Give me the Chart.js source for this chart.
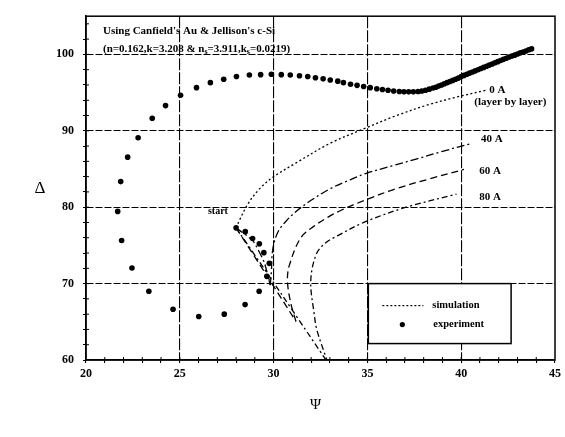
<!DOCTYPE html>
<html>
<head>
<meta charset="utf-8">
<script src="https://cdn.jsdelivr.net/npm/chart.js@4/dist/chart.umd.min.js"></script>
<style>html,body{margin:0;padding:0;background:#fff}canvas{display:block}</style>
</head>
<body>
<canvas id="c" width="565" height="437"></canvas>
<script>
// measured points (psi, delta)
const expPsi = [28.0, 28.49, 28.88, 29.24, 29.48, 29.77, 29.64, 29.23, 28.48, 27.37, 26.01, 24.64, 23.35, 22.45, 21.9, 21.69, 21.85, 22.22, 22.78,
  23.53, 24.24, 25.04, 25.89, 26.63, 27.34, 28.02, 28.71, 29.31, 29.88, 30.41, 30.89, 31.38, 31.82, 32.23, 32.64, 33.02, 33.42, 33.72,
  34.1, 34.45, 34.8, 35.15, 35.5, 35.8, 36.1, 36.4, 36.7, 36.95, 37.2, 37.45, 37.7, 37.9, 38.1, 38.3, 38.5, 38.65, 38.8, 38.95, 39.1,
  39.25, 39.4, 39.55, 39.7, 39.85, 40.0, 40.15, 40.3, 40.45, 40.6, 40.75, 40.9, 41.05, 41.2, 41.35, 41.5, 41.65, 41.8, 41.95, 42.1,
  42.25, 42.4, 42.55, 42.7, 42.85, 43.0, 43.15, 43.3, 43.45, 43.6, 43.75];
const expDelta = [77.3, 76.8, 75.9, 75.2, 74.05, 72.65, 70.95, 69.0, 67.25, 66.0, 65.7, 66.65, 69.0, 72.05, 75.65, 79.45, 83.35, 86.55, 89.1,
  91.65, 93.3, 94.65, 95.65, 96.3, 96.75, 97.1, 97.3, 97.35, 97.4, 97.35, 97.3, 97.2, 97.1, 96.95, 96.8, 96.65, 96.5, 96.3,
  96.1, 95.95, 95.8, 95.65, 95.5, 95.4, 95.3, 95.2, 95.15, 95.1, 95.1, 95.1, 95.15, 95.2, 95.3, 95.45, 95.6, 95.7, 95.85, 96.0, 96.15,
  96.3, 96.45, 96.6, 96.75, 96.9, 97.1, 97.25, 97.4, 97.55, 97.7, 97.85, 98.0, 98.15, 98.3, 98.45, 98.6, 98.75, 98.9, 99.05, 99.2,
  99.35, 99.5, 99.65, 99.8, 99.9, 100.05, 100.2, 100.3, 100.45, 100.6, 100.72];

// simulated curves
const sim0Psi = [28.0, 28.2, 28.65, 29.25, 29.95, 31.2, 33.0, 34.9, 36.5, 38.3, 39.9, 41.4];
const sim0Delta = [77.3, 78.4, 80.5, 82.4, 83.9, 85.8, 88.35, 90.35, 91.95, 93.45, 94.5, 95.35];
const sim40Psi = [28.0, 28.9, 29.5, 29.82, 29.88, 29.95, 30.2, 30.6, 31.2, 32.0, 33.0, 34.0, 34.9, 36.3, 37.6, 39.0, 40.55];
const sim40Delta = [77.3, 75.6, 72.8, 69.8, 71.5, 74.4, 76.6, 78.0, 79.45, 80.9, 82.4, 83.5, 84.4, 85.4, 86.3, 87.3, 88.35];
const sim60Psi = [28.0, 29.6, 31.19, 30.92, 30.74, 30.84, 31.45, 32.2, 32.9, 33.6, 34.9, 36.5, 38.3, 40.15];
const sim60Delta = [77.3, 71.2, 65.05, 67.4, 70.3, 72.4, 76.0, 77.6, 78.7, 79.6, 80.95, 82.4, 83.7, 84.95];
const sim80Psi = [28.0, 30.4, 32.9, 32.7, 32.3, 32.16, 31.98, 32.25, 32.7, 33.4, 34.9, 37.2, 39.75];
const sim80Delta = [77.3, 68.7, 59.6, 61.0, 64.0, 66.1, 70.3, 73.7, 75.2, 76.25, 78.1, 80.1, 81.7];

const xLabelTicks = [20, 25, 30, 35, 40, 45];
const yLabelTicks = [60, 70, 80, 90, 100];

const serif = 'Liberation Serif';
const pts = (xs, ys) => xs.map((v, i) => ({ x: v, y: ys[i] }));

// one curve = straight run down to its lowest point, then smooth branch back up
function simLines(xs, ys, dash) {
  const tip = ys.indexOf(Math.min(...ys));
  const base = {
    showLine: true,
    borderColor: '#000',
    borderWidth: 1.3,
    borderDash: dash,
    pointRadius: 0,
    fill: false
  };
  const out = [];
  if (tip > 0) out.push({ ...base, tension: 0.15, data: pts(xs.slice(0, tip + 1), ys.slice(0, tip + 1)) });
  out.push({ ...base, tension: 0.35, data: pts(xs.slice(tip), ys.slice(tip)) });
  return out;
}

// frame, inner ticks, notes and legend box
const decor = {
  id: 'decor',
  afterDraw(chart) {
    const { ctx, chartArea: a, scales: { x, y } } = chart;
    ctx.save();
    ctx.strokeStyle = '#000';
    ctx.lineWidth = 1.5;
    ctx.strokeRect(a.left, a.top, a.right - a.left, a.bottom - a.top);

    ctx.lineWidth = 1;
    for (let v = 21; v < 45; v++) {
      const px = x.getPixelForValue(v);
      ctx.beginPath(); ctx.moveTo(px, a.bottom); ctx.lineTo(px, a.bottom - 3); ctx.stroke();
    }
    for (let v = 62; v < 105; v += 2) {
      const py = y.getPixelForValue(v);
      ctx.beginPath(); ctx.moveTo(a.left, py); ctx.lineTo(a.left + 3, py); ctx.stroke();
    }

    ctx.fillStyle = '#000';
    ctx.textBaseline = 'middle';
    ctx.textAlign = 'left';

    // note at top left
    ctx.font = 'bold 11px "' + serif + '"';
    ctx.fillText("Using Canfield's Au & Jellison's c-Si", a.left + 17, a.top + 15);
    const parts = [['(n=0.162,k=3.208 & n', 0], ['s', 1], ['=3.911,k', 0], ['s', 1], ['=0.0219)', 0]];
    let tx = a.left + 17;
    for (const [s, sub] of parts) {
      ctx.font = sub ? 'bold 8px "' + serif + '"' : 'bold 11px "' + serif + '"';
      ctx.fillText(s, tx, a.top + 33 + (sub ? 3 : 0));
      tx += ctx.measureText(s).width;
    }

    // curve labels
    ctx.font = 'bold 11px "' + serif + '"';
    const notes = [
      ['0 A', 41.5, 95.3], ['(layer by layer)', 40.7, 93.8], ['40 A', 41.06, 88.95],
      ['60 A', 40.96, 84.76], ['80 A', 40.96, 81.33], ['start', 26.5, 79.4]
    ];
    for (const [s, vx, vy] of notes) {
      if (s === 'start') ctx.font = 'bold 10px "' + serif + '"';
      ctx.fillText(s, x.getPixelForValue(vx), y.getPixelForValue(vy));
    }

    // axis titles
    ctx.textAlign = 'center';
    ctx.font = '17px "' + serif + '"';
    ctx.fillText('\u0394', a.left - 46, (a.top + a.bottom) / 2);
    ctx.font = '15px "' + serif + '"';
    ctx.fillText('\u03A8', (a.left + a.right) / 2 - 5, a.bottom + 45);

    // legend box
    const bl = x.getPixelForValue(35.05), br = x.getPixelForValue(42.66);
    const bt = y.getPixelForValue(70.0), bb = y.getPixelForValue(62.15);
    ctx.fillStyle = '#fff';
    ctx.fillRect(bl, bt, br - bl, bb - bt);
    ctx.lineWidth = 1.5;
    ctx.strokeRect(bl, bt, br - bl, bb - bt);
    ctx.lineWidth = 1.2;
    ctx.setLineDash([2, 2]);
    ctx.beginPath(); ctx.moveTo(bl + 14, bt + 22); ctx.lineTo(bl + 55, bt + 22); ctx.stroke();
    ctx.setLineDash([]);
    ctx.fillStyle = '#000';
    ctx.beginPath(); ctx.arc(bl + 34, bt + 41, 2.6, 0, Math.PI * 2); ctx.fill();
    ctx.textAlign = 'left';
    ctx.font = 'bold 10.5px "' + serif + '"';
    ctx.fillText('simulation', bl + 64, bt + 22);
    ctx.fillText('experiment', bl + 65, bt + 41);
    ctx.restore();
  }
};

new Chart(document.getElementById('c'), {
  type: 'scatter',
  data: {
    datasets: [
      ...simLines(sim0Psi, sim0Delta, [2, 2.5]),
      ...simLines(sim40Psi, sim40Delta, [8, 3, 2, 3]),
      ...simLines(sim60Psi, sim60Delta, [7, 4]),
      ...simLines(sim80Psi, sim80Delta, [6, 3, 2, 3]),
      {
        data: pts(expPsi, expDelta),
        showLine: false,
        pointRadius: 2.8,
        pointBackgroundColor: '#000',
        pointBorderWidth: 0
      }
    ]
  },
  plugins: [decor],
  options: {
    responsive: false,
    animation: false,
    layout: { padding: { top: 5, right: 9, left: 0, bottom: 0 } },
    plugins: { legend: { display: false }, tooltip: { enabled: false } },
    scales: {
      x: {
        type: 'linear',
        min: 20,
        max: 45,
        afterFit: s => { s.height = 77; },
        ticks: {
          stepSize: 1,
          autoSkip: false,
          maxRotation: 0,
          padding: 4,
          color: '#000',
          font: { family: serif, size: 12, weight: 'bold' },
          callback: v => xLabelTicks.includes(v) ? v : ''
        },
        grid: {
          color: c => (c.tick && xLabelTicks.includes(c.tick.value) && c.tick.value > 20 && c.tick.value < 45) ? '#000' : 'rgba(0,0,0,0)',
          lineWidth: 1.1,
          tickColor: '#000',
          tickLength: 3
        },
        border: { display: true, color: '#000', width: 1.5, dash: [12, 2] }
      },
      y: {
        type: 'linear',
        min: 60,
        max: 105,
        afterFit: s => { s.width = 86; },
        ticks: {
          stepSize: 2,
          autoSkip: false,
          padding: 9,
          color: '#000',
          font: { family: serif, size: 12, weight: 'bold' },
          callback: v => yLabelTicks.includes(v) ? v : ''
        },
        grid: {
          color: c => (c.tick && yLabelTicks.includes(c.tick.value) && c.tick.value > 60) ? '#000' : 'rgba(0,0,0,0)',
          lineWidth: 1,
          tickColor: c => (c.tick && c.tick.value < 105) ? '#000' : 'rgba(0,0,0,0)',
          tickLength: 3
        },
        border: { display: true, color: '#000', width: 1.5, dash: [7, 2] }
      }
    }
  }
});
</script>
</body>
</html>
